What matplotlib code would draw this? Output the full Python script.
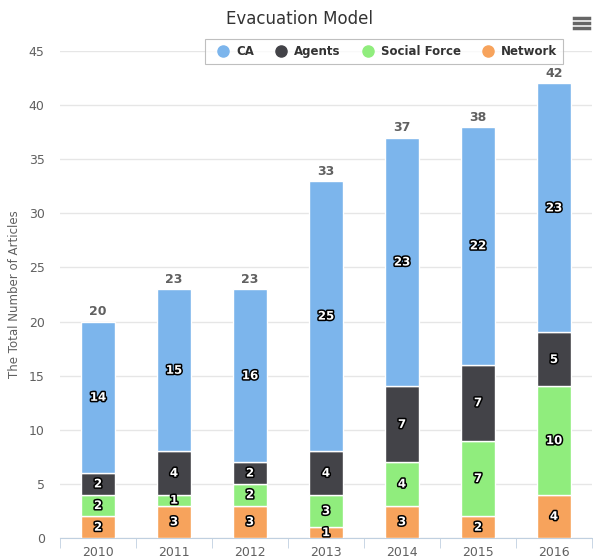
import matplotlib.pyplot as plt
import matplotlib.patheffects as pe
import numpy as np

years = ['2010', '2011', '2012', '2013', '2014', '2015', '2016']
network = [2, 3, 3, 1, 3, 2, 4]
social_force = [2, 1, 2, 3, 4, 7, 10]
agents = [2, 4, 2, 4, 7, 7, 5]
ca = [14, 15, 16, 25, 23, 22, 23]

series = [('Network', network, '#f7a35c'),
          ('Social Force', social_force, '#90ed7d'),
          ('Agents', agents, '#434348'),
          ('CA', ca, '#7cb5ec')]

fig = plt.figure(figsize=(5.93, 5.58), dpi=100)
ax = fig.add_axes([60 / 593, 1 - 538 / 558, 532 / 593, (538 - 51) / 558])

x = np.arange(len(years))
bottom = np.zeros(len(years))
outline = [pe.withStroke(linewidth=2.2, foreground='black')]
for name, vals, color in series:
    vals = np.array(vals)
    ax.bar(x, vals, width=0.46, bottom=bottom, color=color,
           edgecolor='white', linewidth=1, zorder=3)
    for xi, b, v in zip(x, bottom, vals):
        ax.text(xi, b + v / 2, str(v), ha='center', va='center', color='white',
                fontsize=8.5, fontweight='bold', path_effects=outline, zorder=5)
    bottom += vals

for xi, t in zip(x, bottom):
    ax.text(xi, t + 0.3, str(int(t)), ha='center', va='bottom', color='#606060',
            fontsize=9, fontweight='bold', zorder=5)

ax.set_xlim(-0.5, len(years) - 0.5)
ax.set_ylim(0, 45)
ax.set_yticks(range(0, 46, 5))
ax.grid(axis='y', color='#e6e6e6', linewidth=1, zorder=0)
ax.set_xticks(x)
ax.set_xticklabels(years)
ax.set_xticks(np.arange(-0.5, len(years)), minor=True)
ax.tick_params(axis='x', which='major', length=0, pad=6, labelsize=9, labelcolor='#606060')
ax.tick_params(axis='x', which='minor', length=7, color='#c0d0e0')
ax.tick_params(axis='y', length=0, pad=11, labelsize=9, labelcolor='#606060')
for s in ['top', 'right', 'left']:
    ax.spines[s].set_visible(False)
ax.spines['bottom'].set_color('#c0d0e0')

fig.text(15 / 593, 1 - 294 / 558, 'The Total Number of Articles', rotation=90,
         ha='center', va='center', color='#606060', fontsize=8.5)

fig.text(0.505, 1 - 19 / 558, 'Evacuation Model', ha='center', va='center',
         fontsize=12, color='#333333')

order = ['CA', 'Agents', 'Social Force', 'Network']
colors = {n: c for n, _, c in series}
leg_handles = [plt.Line2D([], [], marker='o', linestyle='', markersize=8,
                          color=colors[n]) for n in order]
leg = fig.legend(leg_handles, order, loc='center', bbox_to_anchor=(384 / 593, 1 - 51.5 / 558),
                 ncol=4, frameon=True, handletextpad=0.1, columnspacing=1.3,
                 borderpad=0.5, fancybox=False, prop={'weight': 'bold', 'size': 8.5})
leg.get_frame().set_edgecolor('#b0b0b0')
leg.get_frame().set_linewidth(0.8)
for t in leg.get_texts():
    t.set_color('#333333')

# menu icon
for yy in [18, 23, 28]:
    fig.add_artist(plt.Line2D([574 / 593, 589 / 593], [1 - yy / 558] * 2,
                              color='#666666', linewidth=2.5))

fig.savefig('out.png', dpi=100)
